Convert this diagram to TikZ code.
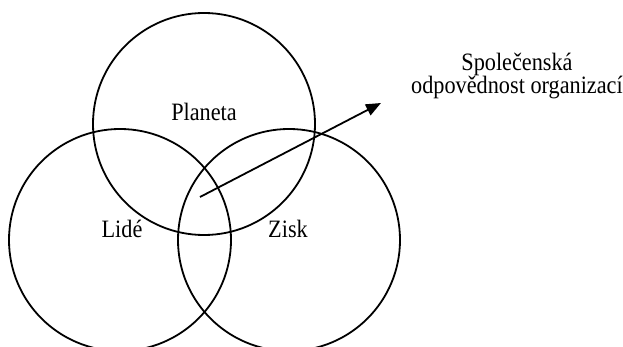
\documentclass[tikz,border=0pt]{standalone}
\usepackage{fontspec}
\setmainfont{Liberation Serif}[FakeStretch=0.89]
\usetikzlibrary{arrows.meta}

\begin{document}
\begin{tikzpicture}[x=1pt, y=-1pt,
		ring/.style={circle, draw, line width=1.8pt, minimum size=222pt, inner sep=0pt},
		lbl/.style={font=\fontsize{25}{21}\selectfont, anchor=base, inner sep=0pt}]
		\fill[white] (0,0) rectangle (623,347);
		\useasboundingbox (0,0) rectangle (623,347);
		
		\node[ring] (P) at (204,124) {};
		\node[ring] (L) at (120,240) {};
		\node[ring] (Z) at (289,240) {};
		
		\node[lbl] (planeta) at (204,121) {Planeta};
		\node[lbl] (lide) at (122,237) {Lidé};
		\node[lbl] (zisk) at (288,237) {Zisk};
		\node[lbl, align=center] (spo) at (517,94) {Společenská\\odpovědnost organizací};
		
		\coordinate (start) at (200,197);
		\coordinate (tip) at (381,103);
		\draw[line width=1.8pt, -{Triangle[length=15pt, width=12pt]}] (start) -- (tip);
	\end{tikzpicture}
\end{document}
